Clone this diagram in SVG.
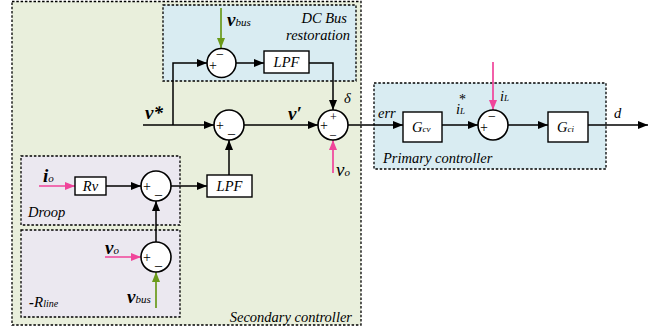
<svg xmlns="http://www.w3.org/2000/svg" width="659" height="333" viewBox="0 0 659 333" font-family="'Liberation Serif', 'Times New Roman', serif">
<defs>
<marker id="ah" markerWidth="10" markerHeight="8" refX="10" refY="4" orient="auto" markerUnits="userSpaceOnUse"><path d="M0,0 L10,4 L0,8 z" fill="#000"/></marker>
<marker id="ahp" markerWidth="10" markerHeight="8" refX="10" refY="4" orient="auto" markerUnits="userSpaceOnUse"><path d="M0,0 L10,4 L0,8 z" fill="#f0449a"/></marker>
<marker id="ahg" markerWidth="10" markerHeight="8" refX="10" refY="4" orient="auto" markerUnits="userSpaceOnUse"><path d="M0,0 L10,4 L0,8 z" fill="#6a9a1a"/></marker>
<style>
.grp{stroke:#000;stroke-width:1.3;stroke-dasharray:2.5 1.8}
.sum{fill:#fff;stroke:#000;stroke-width:1.6}
.blk{fill:#fff;stroke:#000;stroke-width:1.4}
.w{fill:none;stroke:#000;stroke-width:1.5}
.pk{fill:none;stroke:#f0449a;stroke-width:1.7}
.gr{fill:none;stroke:#6a9a1a;stroke-width:1.7}
text{font-family:'Liberation Serif','Times New Roman',serif;fill:#000}
.it{font-style:italic}
.sg{font-size:14px}
.bv{font-weight:bold;font-style:italic;font-size:19px}
.sub{font-style:italic;font-size:11px;font-weight:normal}
.lbl{font-style:italic;font-size:14.5px}
</style>
</defs>
<g id="secondary">
<rect x="12" y="1.5" width="349" height="323.5" fill="#e9efdc" class="grp"/>
<text x="352" y="322" text-anchor="end" class="lbl">Secondary controller</text>
</g>
<g id="dcbus">
<rect x="163" y="5" width="193" height="76" fill="#d9ecf2" class="grp"/>
<text x="347" y="23" text-anchor="end" class="lbl">DC Bus</text>
<text x="350" y="40" text-anchor="end" class="lbl">restoration</text>
</g>
<g id="droop">
<rect x="21" y="156" width="159" height="69" fill="#ebe8f0" class="grp"/>
<text x="28" y="217" class="lbl">Droop</text>
</g>
<g id="rline">
<rect x="21" y="230" width="159" height="87" fill="#ebe8f0" class="grp"/>
<text x="29" y="307" class="it" font-size="15"><tspan font-weight="bold">-</tspan>R<tspan font-size="10">line</tspan></text>
</g>
<g id="primary">
<rect x="374" y="83" width="232" height="86" fill="#d9ecf2" class="grp"/>
<text x="383" y="163" class="lbl">Primary controller</text>
</g>
<g id="connectors">
<path class="w" d="M143,125 H214" marker-end="url(#ah)"/>
<path class="w" d="M173,125 V63 H207" marker-end="url(#ah)"/>
<path class="w" d="M236,63 H264" marker-end="url(#ah)"/>
<path class="w" d="M309,63 H333 V110" marker-end="url(#ah)"/>
<path class="w" d="M244,125 H318" marker-end="url(#ah)"/>
<path class="w" d="M348,125 H403" marker-end="url(#ah)"/>
<path class="w" d="M442,125 H478" marker-end="url(#ah)"/>
<path class="w" d="M508,125 H548" marker-end="url(#ah)"/>
<path class="w" d="M588,125 H648" marker-end="url(#ah)"/>
<path class="w" d="M229,175 V140" marker-end="url(#ah)"/>
<path class="w" d="M106,186 H141" marker-end="url(#ah)"/>
<path class="w" d="M171,186 H207" marker-end="url(#ah)"/>
<path class="w" d="M156,242 V201" marker-end="url(#ah)"/>
<path class="gr" d="M221,8 V48" marker-end="url(#ahg)"/>
<path class="gr" d="M156,308 V272" marker-end="url(#ahg)"/>
<path class="pk" d="M333,173 V140" marker-end="url(#ahp)"/>
<path class="pk" d="M493,62 V110" marker-end="url(#ahp)"/>
<path class="pk" d="M39,186 H75" marker-end="url(#ahp)"/>
<path class="pk" d="M105,257 H141" marker-end="url(#ahp)"/>
</g>
<g id="sum1"><circle cx="221.5" cy="63" r="14.5" class="sum"/><text class="sg"><tspan x="209" y="70">+</tspan><tspan x="216" y="59">−</tspan></text></g>
<g id="sum2"><circle cx="229" cy="125" r="15" class="sum"/><text class="sg"><tspan x="216" y="130">+</tspan><tspan x="228" y="133">_</tspan></text></g>
<g id="sum3"><circle cx="333" cy="125" r="15" class="sum"/><text class="sg"><tspan x="320" y="130">+</tspan><tspan x="330" y="121" font-size="12">+</tspan><tspan x="330" y="134" font-size="12">_</tspan></text></g>
<g id="sum4"><circle cx="493" cy="125" r="15" class="sum"/><text class="sg"><tspan x="480" y="132">+</tspan><tspan x="488" y="121">−</tspan></text></g>
<g id="sum5"><circle cx="156" cy="186" r="15" class="sum"/><text class="sg"><tspan x="143" y="191">+</tspan><tspan x="155" y="194">_</tspan></text></g>
<g id="sum6"><circle cx="156" cy="257" r="15" class="sum"/><text class="sg"><tspan x="143" y="262">+</tspan><tspan x="155" y="265">_</tspan></text></g>
<g id="lpf1"><rect x="264" y="51" width="45" height="22" class="blk"/><text x="286.5" y="67" text-anchor="middle" class="lbl">LPF</text></g>
<g id="lpf2"><rect x="207" y="175" width="45" height="22" class="blk"/><text x="229.5" y="191" text-anchor="middle" class="lbl">LPF</text></g>
<g id="rv"><rect x="75" y="177" width="31" height="18" class="blk"/><text x="90.5" y="191" text-anchor="middle" class="lbl">Rv</text></g>
<g id="gcv"><rect x="403" y="112" width="39" height="30" class="blk"/><text x="412" y="132" class="lbl" font-size="16">G<tspan font-size="9">cv</tspan></text></g>
<g id="gci"><rect x="548" y="112" width="40" height="30" class="blk"/><text x="557" y="132" class="lbl" font-size="16">G<tspan font-size="9">ci</tspan></text></g>
<g id="labels">
<text x="227" y="26" class="bv">v<tspan class="sub">bus</tspan></text>
<text x="145" y="119" class="bv">v*</text>
<text x="288" y="120" class="bv">v′</text>
<text x="344" y="103" class="lbl" font-size="13">δ</text>
<text x="336" y="176" class="it" font-size="19">v<tspan font-size="11">o</tspan></text>
<text x="378" y="118" class="lbl">err</text>
<text x="456" y="114" class="lbl" font-size="16">i<tspan font-size="9">L</tspan><tspan x="459" y="104" font-size="14" font-style="normal">*</tspan></text>
<text x="500" y="101" class="lbl">i<tspan font-size="9">L</tspan></text>
<text x="614" y="118" class="lbl" font-size="18">d</text>
<text x="43" y="182" class="bv">i<tspan class="sub">o</tspan></text>
<text x="105" y="254" class="bv">v<tspan class="sub">o</tspan></text>
<text x="127" y="303" class="bv">v<tspan class="sub">bus</tspan></text>
</g>
</svg>
